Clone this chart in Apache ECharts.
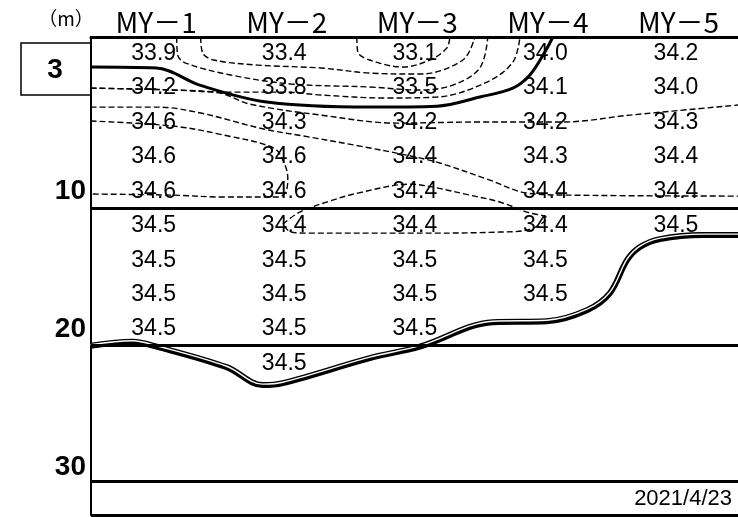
<!DOCTYPE html>
<html>
<head>
<meta charset="utf-8">
<script src="https://cdn.jsdelivr.net/npm/echarts@6/dist/echarts.min.js"></script>
<style>
  html, body { margin: 0; padding: 0; background: #fff; }
  #chart { width: 738px; height: 517px; }
</style>
</head>
<body>
<div id="chart"></div>
<script>
// stations along the section, depths of the sampled rows (m)
const stations = ['MY－1', 'MY－2', 'MY－3', 'MY－4', 'MY－5']
const depths = [0, 2.5, 5, 7.5, 10, 12.5, 15, 17.5, 20, 22.5]
const depthTicks = [10, 20, 30]
const frameDepths = [11.22, 21.16, 31.05, 33.5]

// salinity per row (depth) and station, null = no sample
const salinity = [
    [33.9, 33.4, 33.1, 34.0, 34.2],
    [34.2, 33.8, 33.5, 34.1, 34.0],
    [34.6, 34.3, 34.2, 34.2, 34.3],
    [34.6, 34.6, 34.4, 34.3, 34.4],
    [34.6, 34.6, 34.4, 34.4, 34.4],
    [34.5, 34.4, 34.4, 34.4, 34.5],
    [34.5, 34.5, 34.5, 34.5, null],
    [34.5, 34.5, 34.5, 34.5, null],
    [34.5, 34.5, 34.5, null, null],
    [null, 34.5, null, null, null]
]

// isohalines as [station position, depth]
const iso340 = [[0.517, 0.98], [1.023, 1.05], [1.352, 2.29], [1.866, 3.52], [2.655, 3.89], [3.169, 3.82], [3.498, 3.16], [3.751, 2.51], [3.881, 1.56], [3.996, -0.11], [4.057, -1.2]]
const iso332 = [[2.556, -1.2], [2.563, -0.11], [2.655, 0.47], [2.908, 0.98], [3.115, 0.47], [3.245, -0.40], [3.268, -1.2]]
const iso334 = [[1.360, -1.2], [1.375, -0.04], [1.460, 0.47], [1.797, 0.84], [2.280, 1.05], [2.655, 1.42], [3.038, 1.49], [3.368, 0.47], [3.460, -1.2]]
const iso336 = [[1.176, -1.2], [1.184, 0.11], [1.245, 0.69], [1.590, 1.56], [2.050, 2.21], [2.655, 2.43], [3.038, 2.65], [3.291, 2.29], [3.498, 1.05], [3.559, -1.2]]
const iso338 = [[0.517, 2.51], [1.153, 2.65], [1.506, 2.80], [1.996, 2.80], [2.280, 3.01], [2.785, 3.23], [3.169, 3.16], [3.552, 2.07], [3.751, 0.62], [3.805, -1.2]]
const iso342 = [[0.517, 2.51], [1.153, 2.65], [1.506, 2.87], [1.736, 3.67], [2.280, 4.47], [2.862, 5.05], [3.498, 4.97], [4.134, 4.97], [4.648, 4.47], [5.475, 3.74]]
const iso344 = [[0.517, 3.89], [1.031, 3.89], [1.360, 4.32], [1.843, 5.48], [2.149, 5.99], [2.579, 6.72], [2.969, 7.44], [3.192, 7.95], [3.575, 9.19], [3.858, 10.13], [4.188, 10.28], [5.475, 10.35]]
const iso346 = [[0.517, 4.90], [1.153, 5.27], [1.536, 5.92], [1.920, 6.86], [1.996, 7.88], [2.027, 9.04], [2.011, 10.06], [1.950, 10.42], [1.536, 10.42], [1.153, 10.28], [0.517, 10.20]]
const iso344b = [[1.989, 12.38], [2.119, 11.51], [2.349, 10.71], [2.563, 10.13], [2.969, 9.48], [3.138, 9.70], [3.421, 10.28], [3.651, 10.78], [3.858, 11.51], [4.011, 11.95], [3.858, 12.82], [3.651, 12.96], [3.138, 13.04], [2.969, 13.04], [2.180, 13.04], [2.050, 12.96], [1.989, 12.38]]
const seabed = [[0.517, 21.21], [0.839, 20.92], [1.023, 21.28], [1.559, 22.77], [1.835, 24.07], [1.989, 23.93], [2.655, 22.11], [3.038, 21.28], [3.598, 19.5], [4.011, 19.43], [4.318, 18.63], [4.494, 17.39], [4.625, 15.0], [4.724, 14.05], [4.877, 13.47], [5.207, 13.18], [5.475, 13.18]]

const dashedLines = [iso332, iso334, iso336, iso338, iso342, iso344, iso346, iso344b]

const labelPoints = []
salinity.forEach((row, r) => {
    row.forEach((v, c) => {
        if (v !== null) {
            labelPoints.push([c + 1, depths[r], v])
        }
    })
})

let series = []

dashedLines.forEach((line) => {
    series.push({
        type: 'line',
        data: line,
        smooth: 0.35,
        symbol: 'none',
        silent: true,
        lineStyle: { color: '#000', width: 1.4, type: [6, 3] }
    })
})

series.push({
    type: 'line',
    data: iso340,
    smooth: 0.35,
    symbol: 'none',
    silent: true,
    lineStyle: { color: '#000', width: 3 }
})

series.push({
    type: 'line',
    data: seabed,
    smooth: 0.35,
    symbol: 'none',
    silent: true,
    lineStyle: { color: '#000', width: 6 },
    markLine: {
        silent: true,
        symbol: 'none',
        label: { show: false },
        lineStyle: { color: '#000', width: 3, type: 'solid' },
        data: frameDepths.map((d) => ({ yAxis: d }))
    }
})

series.push({
    type: 'line',
    data: seabed.map((p) => [p[0], p[1] - 0.07]),
    smooth: 0.35,
    symbol: 'none',
    silent: true,
    lineStyle: { color: '#fff', width: 1.4 }
})

series.push({
    type: 'scatter',
    data: labelPoints,
    symbolSize: 0,
    silent: true,
    z: 5,
    itemStyle: { opacity: 1 },
    label: {
        show: true,
        position: 'inside',
        formatter: (p) => p.value[2].toFixed(1),
        fontFamily: 'Liberation Sans',
        fontSize: 23,
        color: '#000',
        opacity: 1
    }
})

let chart = echarts.init(document.getElementById('chart'))
chart.setOption({
    animation: false,
    backgroundColor: '#fff',
    grid: { left: 91, right: 0, top: 37, bottom: 2 },
    xAxis: {
        type: 'value',
        position: 'top',
        min: 0.52,
        max: 5.475,
        axisLine: { show: true, onZero: false, lineStyle: { color: '#000', width: 3 } },
        axisTick: { show: false },
        splitLine: { show: false },
        axisLabel: {
            customValues: [1, 2, 3, 4, 5],
            formatter: (v) => stations[Math.round(v) - 1],
            fontFamily: 'Noto Sans CJK JP',
            fontSize: 28,
            color: '#000',
            margin: 1,
            padding: [0, 0, 0, 5]
        }
    },
    yAxis: {
        type: 'value',
        inverse: true,
        min: -1.2,
        max: 33.5,
        axisLine: { show: true, onZero: false, lineStyle: { color: '#000', width: 2 } },
        axisTick: { show: false },
        splitLine: { show: false },
        axisLabel: {
            customValues: depthTicks,
            fontFamily: 'Liberation Sans',
            fontWeight: 'bold',
            fontSize: 28,
            color: '#000',
            margin: 5
        }
    },
    graphic: [
        {
            type: 'rect',
            shape: { x: 21, y: 43, width: 70, height: 52 },
            style: { fill: '#fff', stroke: '#000', lineWidth: 1.5 }
        },
        {
            type: 'text',
            x: 55, y: 70,
            style: { text: '3', font: 'bold 28px "Liberation Sans"', fill: '#000', align: 'center', verticalAlign: 'middle' }
        },
        {
            type: 'text',
            x: 66, y: 19,
            style: { text: '（m）', font: '19px "Noto Sans CJK JP"', fill: '#000', align: 'center', verticalAlign: 'middle' }
        },
        {
            type: 'text',
            x: 732, y: 499,
            style: { text: '2021/4/23', font: '22px "Liberation Sans"', fill: '#000', align: 'right', verticalAlign: 'middle' }
        }
    ],
    series: series
})
</script>
</body>
</html>
